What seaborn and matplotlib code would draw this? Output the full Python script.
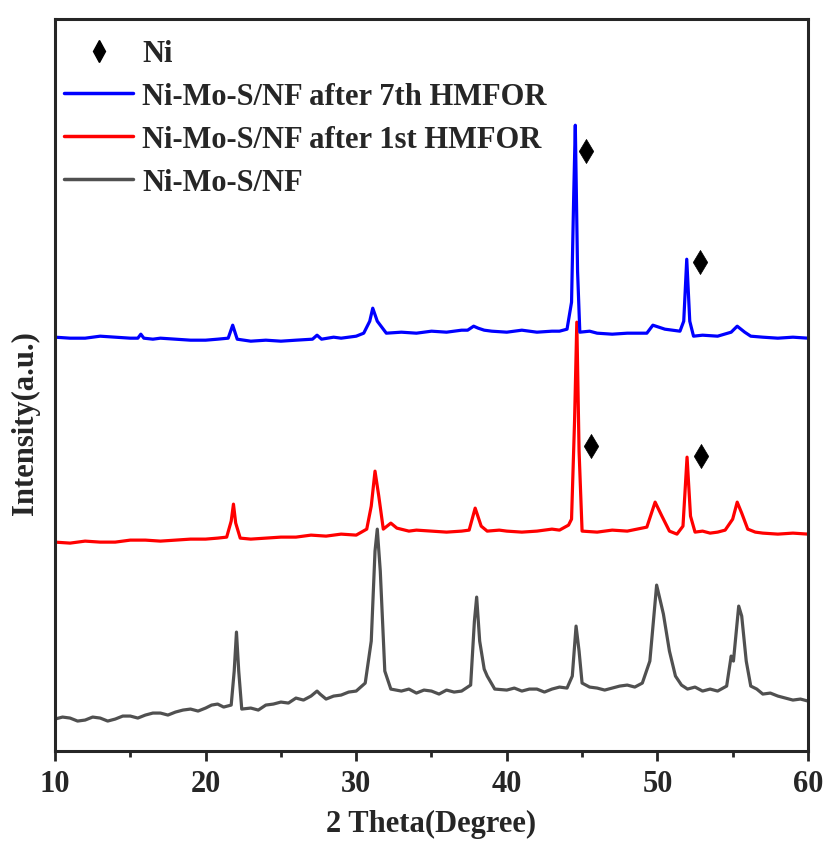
import matplotlib
matplotlib.use("Agg")
import matplotlib.pyplot as plt
from matplotlib.lines import Line2D
import seaborn as sns
import pandas as pd

# ---------------- data ----------------
theta_gray = [10, 10.5, 11, 11.5, 12, 12.5, 13, 13.5, 14, 14.5, 15, 15.5, 16, 16.5, 17, 17.5, 18, 18.5,
              19, 19.5, 20, 20.4, 20.8, 21.2, 21.7, 21.9, 22.05, 22.2, 22.4,
              23, 23.5, 24, 24.5, 25, 25.5, 26, 26.5, 27, 27.4, 27.6, 28, 28.5, 29, 29.5, 30, 30.6,
              31.0, 31.25, 31.4, 31.6, 31.9, 32.3,
              33, 33.5, 34, 34.5, 35, 35.5, 36, 36.5, 37, 37.6, 37.85, 38.0, 38.2, 38.5, 38.7, 39.2,
              40, 40.5, 41, 41.5, 42, 42.5, 43, 43.5, 44,
              44.35, 44.6, 44.8, 45.0, 45.5, 46, 46.5, 47, 47.5, 48, 48.5, 49, 49.5, 49.95, 50.2, 50.4,
              50.8, 51.2, 51.6, 52, 52.5, 53, 53.5,
              54, 54.6, 54.9, 55.05, 55.4, 55.6, 55.9, 56.2, 56.6, 57, 57.5, 58, 58.5, 59, 59.5, 60]
int_gray = [32, 34, 33, 30, 31, 34, 33, 30, 32, 35, 35, 33, 36, 38, 38, 36, 39, 41,
            42, 40, 43, 46, 47, 44, 46, 80, 119, 80, 42,
            43, 41, 46, 47, 49, 48, 53, 51, 55, 60, 57, 52, 55, 56, 59, 60, 68,
            110, 200, 222, 180, 80, 62,
            60, 62, 58, 61, 60, 57, 61, 59, 60, 66, 130, 154, 110, 82, 75, 62,
            61, 63, 60, 62, 62, 59, 62, 64, 63,
            75, 125, 100, 68, 64, 63, 61, 63, 65, 66, 64, 68, 90, 166, 150, 137,
            100, 75, 66, 62, 64, 60, 62,
            60, 65, 95, 90, 145, 135, 90, 65, 62, 57, 58, 55, 53, 51, 52, 50]

theta_red = [10, 11, 12, 13, 14, 15, 16, 17, 18, 19, 20, 20.8, 21.4, 21.7, 21.85, 22.0, 22.3, 23, 24, 25,
             26, 27, 28, 29, 30, 30.7, 31.0, 31.25,
             31.5, 31.8, 32.3, 32.7, 33.5, 34, 35, 36, 37, 37.5, 37.9, 38.3, 38.7, 39.5, 40, 41, 42, 43,
             43.5, 44.1, 44.3, 44.5,
             44.65, 44.8, 45.0, 46, 47, 48, 49.3, 49.85, 50.3, 50.8, 51.3, 51.7, 51.97, 52.2, 52.5, 53, 53.5,
             54, 54.5, 55.0, 55.3, 55.6, 56.0, 56.5, 57, 58, 59, 60]
int_red = [209, 208, 210, 209, 209, 211, 211, 210, 211, 212, 212, 213, 214, 230, 247, 228, 213, 212, 213, 214,
           214, 216, 215, 217, 216, 222, 245, 280,
           255, 222, 228, 223, 220, 221, 220, 219, 220, 221, 243, 225, 220, 221, 220, 219, 220, 222,
           221, 226, 232, 330,
           429, 300, 220, 219, 221, 220, 224, 249, 235, 220, 217, 225, 294, 235, 219, 220, 218,
           219, 221, 232, 249, 238, 222, 219, 218, 217, 218, 217]

theta_blue = [10, 11, 12, 13, 14, 15, 15.5, 15.7, 15.9, 16.5, 17, 18, 19, 20, 20.8, 21.5, 21.8, 22.1, 23, 24,
              25, 26, 27.1, 27.4, 27.7, 28.5, 29,
              30, 30.5, 30.9, 31.1, 31.4, 32, 33, 34, 35, 36, 37, 37.4, 37.8, 38.1, 38.5, 39, 40, 41, 42,
              43, 43.5, 44.0, 44.3,
              44.45, 44.55, 44.7, 44.85, 45.5, 46, 47, 48, 49.3, 49.7, 50.5, 51.5, 51.75, 51.95, 52.15, 52.4,
              53, 54, 54.9, 55.3, 55.8, 56.2, 57, 58, 59, 60]
int_blue = [414, 413, 413, 415, 414, 413, 413, 417, 413, 412, 413, 412, 411, 411, 412, 413, 426, 412, 410, 411,
            410, 411, 412, 416, 412, 414, 413,
            415, 418, 430, 443, 430, 418, 419, 418, 420, 419, 421, 421, 425, 423, 421, 420, 419, 421, 419,
            420, 420, 422, 449,
            560, 626, 480, 419, 420, 418, 417, 418, 418, 426, 422, 420, 430, 492, 430, 415,
            416, 415, 419, 425, 419, 415, 414, 413, 414, 413]

ni_theta = [45.26, 52.8, 45.6, 52.9]
ni_int = [600, 489, 305, 295]

labels = ["Ni-Mo-S/NF", "Ni-Mo-S/NF after 1st HMFOR", "Ni-Mo-S/NF after 7th HMFOR"]
colors = {"Ni-Mo-S/NF": "#505050",
          "Ni-Mo-S/NF after 1st HMFOR": "#FF0000",
          "Ni-Mo-S/NF after 7th HMFOR": "#0000FF"}

df = pd.concat([
    pd.DataFrame({"theta": theta_gray, "intensity": int_gray, "sample": labels[0]}),
    pd.DataFrame({"theta": theta_red, "intensity": int_red, "sample": labels[1]}),
    pd.DataFrame({"theta": theta_blue, "intensity": int_blue, "sample": labels[2]}),
])
ni_df = pd.DataFrame({"theta": ni_theta, "intensity": ni_int})

# ---------------- style ----------------
sns.set_style("ticks")
plt.rcParams["font.family"] = ["Liberation Serif", "DejaVu Serif"]
plt.rcParams["font.weight"] = "bold"
plt.rcParams["axes.labelweight"] = "bold"

fig = plt.figure(figsize=(8.27, 8.45), dpi=100)
ax = fig.add_axes([0.0665, 0.110, 0.9105, 0.866])

for lab in labels:
    sns.lineplot(data=df[df["sample"] == lab], x="theta", y="intensity", color=colors[lab],
                 linewidth=2.3, ax=ax, estimator=None, sort=False, legend=False)

sns.scatterplot(data=ni_df, x="theta", y="intensity", marker="d", color="black",
                s=150, edgecolor="black", linewidth=0.5, ax=ax, legend=False, zorder=5)

ax.set_xlim(10, 60)
ax.set_ylim(0, 732)
ax.set_xticks([10, 20, 30, 40, 50, 60])
ax.set_xticks([15, 25, 35, 45, 55], minor=True)
ax.set_yticks([])
ax.tick_params(axis="x", which="major", direction="out", length=7, width=2, labelsize=22, pad=6)
ax.tick_params(axis="x", which="minor", direction="out", length=4, width=2)
for lbl in ax.get_xticklabels():
    lbl.set_fontweight("bold")
for sp in ax.spines.values():
    sp.set_linewidth(2.2)
    sp.set_visible(True)

ax.set_xlabel("2 Theta(Degree)", fontsize=22, fontweight="bold", labelpad=8)
ax.set_ylabel("Intensity(a.u.)", fontsize=22, fontweight="bold")
ax.yaxis.set_label_coords(-0.02, 0.45)

handles = [
    Line2D([], [], linestyle="none", marker="d", color="black", markersize=11),
    Line2D([], [], color=colors[labels[2]], linewidth=2.5),
    Line2D([], [], color=colors[labels[1]], linewidth=2.5),
    Line2D([], [], color=colors[labels[0]], linewidth=2.5),
]
leg = ax.legend(handles, ["Ni", labels[2], labels[1], labels[0]], loc="upper left",
                bbox_to_anchor=(0.0, 0.985), frameon=False,
                prop={"family": "Liberation Serif", "weight": "bold", "size": 22},
                handlelength=2.25, handletextpad=0.3, labelspacing=0.45, borderaxespad=0.1,
                borderpad=0.2)

fig.savefig("out.png", dpi=100)
